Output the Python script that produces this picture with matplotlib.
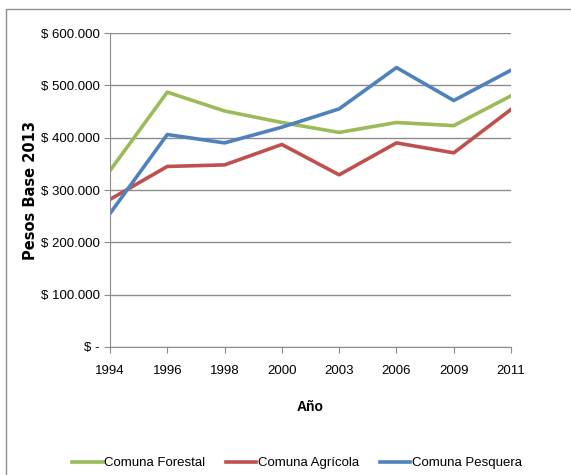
import matplotlib.pyplot as plt
from matplotlib.patches import Rectangle

years = ['1994', '1996', '1998', '2000', '2003', '2006', '2009', '2011']
forestal = [337000, 487000, 451000, 429000, 410000, 429000, 423000, 480000]
agricola = [282000, 345000, 348000, 387000, 329000, 390000, 371000, 454000]
pesquera = [255000, 406000, 390000, 420000, 455000, 534000, 471000, 529000]

y_ticks = [0, 100000, 200000, 300000, 400000, 500000, 600000]
y_labels = ['$ -', '$ 100.000', '$ 200.000', '$ 300.000',
            '$ 400.000', '$ 500.000', '$ 600.000']

plt.rcParams['font.family'] = ['Liberation Sans Narrow', 'Liberation Sans', 'DejaVu Sans']

fig = plt.figure(figsize=(5.71, 4.75), dpi=100)
ax = fig.add_axes([0.1926, 0.2695, 0.7024, 0.661])

# chart area border (cut off on right and bottom like the source)
fig.patches.append(Rectangle((6 / 571, -0.05), 1.0, 1 - 9 / 475 + 0.05,
                             transform=fig.transFigure, fill=False,
                             edgecolor='#8c8c8c', linewidth=1.0))

x = list(range(len(years)))
ax.plot(x, forestal, color='#9BBB59', linewidth=2.6, label='Comuna Forestal')
ax.plot(x, agricola, color='#C0504D', linewidth=2.6, label='Comuna Agrícola')
ax.plot(x, pesquera, color='#4F81BD', linewidth=2.6, label='Comuna Pesquera')

ax.set_xlim(0, len(years) - 1)
ax.set_ylim(0, 600000)
ax.set_xticks(x)
ax.set_xticklabels(years)
ax.set_yticks(y_ticks)
ax.set_yticklabels(y_labels)

ax.grid(axis='y', color='#8c8c8c', linewidth=1.0)
ax.set_axisbelow(True)
for side in ['top', 'right']:
    ax.spines[side].set_visible(False)
for side in ['left', 'bottom']:
    ax.spines[side].set_color('#8c8c8c')
ax.tick_params(axis='both', colors='#8c8c8c', length=4, labelsize=9.5,
               labelcolor='black')
ax.tick_params(axis='x', pad=9)

ax.set_ylabel('Pesos Base 2013', fontsize=10.5, fontweight='bold',
              family=['DejaVu Sans'])
ax.yaxis.set_label_coords(-0.18, 0.5)
ax.set_xlabel('Año', fontsize=10, fontweight='bold')
ax.xaxis.set_label_coords(0.5, -0.17)

fig.legend(loc='center', bbox_to_anchor=(0.52, 0.025), ncol=3, frameon=False,
           fontsize=9.5, handlelength=2.3, columnspacing=1.6, handletextpad=0.1)

plt.savefig('out.png', dpi=100)
